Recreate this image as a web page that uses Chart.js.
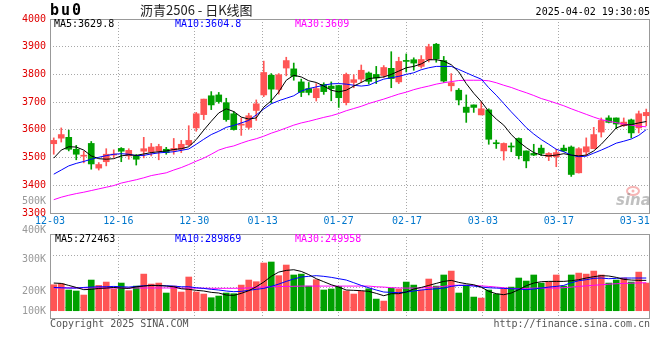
<!DOCTYPE html>
<html>
<head>
<meta charset="utf-8">
<script src="https://cdn.jsdelivr.net/npm/chart.js@4.4.1/dist/chart.umd.min.js"></script>
<style>
  body { margin: 0; background: #fff; }
  #wrap { position: relative; width: 660px; height: 360px; overflow: hidden; background: #fff; }
  canvas { position: absolute; left: 0; top: 0; }
  .t { position: absolute; font: 10px "DejaVu Sans Mono", monospace; line-height: 12px; white-space: nowrap; }
</style>
</head>
<body>
<div id="wrap">
  <canvas id="kline" width="660" height="360"></canvas>
  <canvas id="vol" width="660" height="360"></canvas>
  <div class="t" style="left:50px;top:3px;font:bold 15px 'DejaVu Sans Mono';line-height:15px;letter-spacing:2px;">bu0</div>
  <div class="t" style="left:140px;top:3px;font:13px 'Noto Sans CJK SC';line-height:13px;color:#222;">沥青2506 - 日K线图</div>
  <div class="t" id="stamp" style="right:10px;top:6px;color:#000;"></div>
  <div class="t" id="pm5" style="left:54px;top:18px;color:#000;"></div>
  <div class="t" id="pm10" style="left:175px;top:18px;color:#0000ff;"></div>
  <div class="t" id="pm30" style="left:295px;top:18px;color:#ff00ff;"></div>
  <div class="t" id="vm5" style="left:55px;top:233px;color:#000;"></div>
  <div class="t" id="vm10" style="left:175px;top:233px;color:#0000ff;"></div>
  <div class="t" id="vm30" style="left:295px;top:233px;color:#ff00ff;"></div>
  <div class="t" style="left:50px;top:318px;color:#555;">Copyright 2025 SINA.COM</div>
  <div class="t" style="right:10px;top:318px;color:#555;">http://finance.sina.com.cn</div>
</div>
<script>
// 交易日 (2024-12-03 ~ 2025-04-02)
const dates = [
  '12-03','12-04','12-05','12-06','12-09','12-10','12-11','12-12','12-13','12-16',
  '12-17','12-18','12-19','12-20','12-23','12-24','12-25','12-26','12-27','12-30',
  '12-31','01-02','01-03','01-06','01-07','01-08','01-09','01-10','01-13','01-14',
  '01-15','01-16','01-17','01-20','01-21','01-22','01-23','01-24','01-27','02-05',
  '02-06','02-07','02-10','02-11','02-12','02-13','02-14','02-17','02-18','02-19',
  '02-20','02-21','02-24','02-25','02-26','02-27','02-28','03-03','03-04','03-05',
  '03-06','03-07','03-10','03-11','03-12','03-13','03-14','03-17','03-18','03-19',
  '03-20','03-21','03-24','03-25','03-26','03-27','03-28','03-31','04-01','04-02'
];
const tickDates = ['12-03','12-16','12-30','01-13','01-27','02-17','03-03','03-17','03-31'];

const opens = [
  3550,3570,3573,3530,3505,3551,3462,3485,3509,3533, 3506,3506,3523,3520,3523,3530,3526,3530,3546,3607,
  3655,3723,3726,3698,3658,3617,3609,3670,3726,3797, 3746,3823,3820,3773,3749,3716,3764,3758,3760,3698,
  3771,3783,3805,3800,3796,3822,3773,3850,3853,3829, 3853,3909,3850,3759,3743,3682,3690,3654,3672,3553,
  3524,3540,3569,3524,3515,3534,3503,3503,3534,3538, 3445,3520,3532,3592,3643,3643,3615,3636,3607,3651
];
const closes = [
  3562,3583,3530,3512,3508,3477,3475,3512,3512,3523, 3526,3494,3532,3538,3540,3518,3533,3548,3562,3658,
  3711,3690,3702,3637,3601,3620,3651,3694,3807,3747, 3799,3850,3793,3735,3735,3749,3738,3749,3716,3800,
  3781,3815,3775,3787,3825,3785,3847,3847,3841,3854, 3900,3856,3776,3770,3708,3663,3681,3676,3566,3550,
  3551,3538,3507,3488,3509,3515,3515,3518,3524,3439, 3532,3539,3583,3634,3627,3621,3628,3589,3658,3663
];
const highs = [
  3571,3607,3599,3544,3523,3558,3482,3532,3528,3536, 3532,3511,3573,3551,3548,3537,3569,3562,3615,3663,
  3711,3738,3735,3714,3666,3643,3660,3708,3848,3803, 3803,3862,3841,3783,3771,3767,3770,3773,3761,3805,
  3799,3834,3809,3829,3832,3882,3862,3874,3860,3868, 3909,3912,3865,3803,3749,3726,3690,3702,3676,3563,
  3553,3553,3571,3524,3548,3545,3518,3530,3545,3542, 3536,3571,3609,3643,3651,3643,3643,3639,3668,3675
];
const lows = [
  3512,3556,3524,3492,3481,3458,3455,3470,3500,3485, 3494,3473,3499,3506,3492,3512,3512,3518,3542,3595,
  3637,3673,3696,3631,3599,3580,3603,3634,3720,3696, 3729,3795,3779,3720,3726,3704,3728,3705,3681,3690,
  3752,3771,3765,3767,3789,3752,3767,3809,3815,3823, 3845,3844,3771,3740,3690,3627,3663,3654,3548,3533,
  3491,3521,3495,3463,3507,3507,3489,3467,3521,3432, 3444,3507,3532,3574,3625,3604,3612,3571,3589,3615
];
// 成交量 (千手)
const volumes = [
  232,241,185,176,140,274,226,256,194,247, 179,220,327,238,247,158,220,167,301,167,
  149,116,131,158,152,229,274,259,426,435, 313,408,319,327,220,277,185,194,217,176,
  149,173,196,104,86,202,194,256,229,185, 283,220,319,354,158,229,122,113,185,149,
  194,211,292,265,319,247,256,319,220,319, 336,327,354,319,247,274,292,256,345,247
];

const ma5 = [
  3498,3527,3539,3538,3527,3506,3496,3494,3496,3506, 3510,3508,3513,3518,3521,3524,3529,3532,3539,3565,
  3599,3631,3661,3676,3666,3646,3639,3643,3682,3705, 3737,3779,3797,3791,3777,3771,3758,3743,3737,3743,
  3758,3771,3785,3788,3791,3800,3812,3824,3829,3838, 3853,3853,3848,3835,3809,3767,3732,3702,3666,3639,
  3617,3583,3557,3536,3518,3509,3506,3509,3514,3509, 3506,3509,3524,3548,3577,3607,3617,3619,3625,3630
];
const ma10 = [
  3440,3455,3470,3479,3486,3494,3501,3507,3512,3514, 3512,3507,3508,3513,3517,3519,3521,3526,3531,3548,
  3566,3583,3595,3609,3616,3625,3634,3654,3675,3694, 3705,3714,3723,3740,3749,3755,3761,3766,3767,3765,
  3761,3758,3761,3773,3783,3788,3793,3800,3806,3817, 3824,3829,3829,3829,3818,3806,3794,3783,3752,3725,
  3695,3665,3637,3608,3585,3565,3548,3530,3521,3509, 3503,3505,3516,3527,3539,3552,3559,3567,3580,3601
];
const ma30 = [
  3348,3357,3364,3370,3375,3381,3387,3393,3399,3408, 3414,3420,3427,3435,3440,3445,3455,3464,3475,3487,
  3498,3512,3527,3536,3542,3552,3561,3568,3577,3588, 3597,3607,3617,3625,3631,3638,3645,3651,3659,3669,
  3677,3685,3695,3703,3711,3720,3729,3736,3745,3752, 3758,3765,3770,3774,3778,3779,3779,3779,3777,3770,
  3761,3753,3743,3734,3724,3713,3705,3696,3687,3676, 3666,3656,3646,3637,3631,3626,3621,3617,3613,3611
];
const volMa5 = [
  247,244,226,208,188,191,199,202,208,202, 199,214,220,226,226,220,214,196,191,182,
  176,164,158,140,137,155,179,214,256,307, 345,360,366,351,322,286,259,232,211,185,
  182,179,173,155,134,152,152,167,194,208, 226,244,262,271,253,241,232,211,173,152,
  143,158,188,223,247,259,262,262,262,268, 277,292,304,313,310,298,280,274,271,271
];
const volMa10 = [
  208,205,202,202,208,211,214,214,217,214, 211,217,223,226,223,223,220,214,214,205,
  199,191,185,176,170,173,182,191,199,217, 238,262,283,301,307,313,307,298,286,274,
  250,226,205,185,167,164,161,167,176,185, 191,196,202,217,226,226,220,211,205,202,
  199,196,194,188,194,202,211,217,226,250, 268,277,289,292,286,289,292,292,292,292
];
const volMa30 = [
  204,204,204,204,204,204,204,203,203,203, 203,203,203,203,203,203,203,202,202,202,
  201,200,200,200,200,201,203,210,212,214, 216,217,218,220,220,220,220,220,220,220,
  220,220,220,214,211,206,203,202,202,203, 207,211,218,226,228,227,226,222,217,211,
  205,199,196,199,202,202,202,202,206,211, 217,222,227,232,237,241,244,246,248,250
];

const lastPriceMa = ['3629.8', '3604.8', '3609'];
const lastVolMa = ['272463', '289869', '249958'];
const stamp = '2025-04-02 19:30:05';

// 量图坐标刻度 (千手) 与显示文字
const volTickVals = [495, 209, 30];
const volTickLabels = ['300K', '200K', '100K'];
const volOverLabels = ['500K', '400K'];

const UP = '#ff5555', DOWN = '#00a000', GRID = '#a8a8a8';
const monoFont = { family: '"DejaVu Sans Mono", monospace', size: 10 };

document.getElementById('stamp').textContent = stamp;
document.getElementById('pm5').textContent = 'MA5:' + lastPriceMa[0];
document.getElementById('pm10').textContent = 'MA10:' + lastPriceMa[1];
document.getElementById('pm30').textContent = 'MA30:' + lastPriceMa[2];
document.getElementById('vm5').textContent = 'MA5:' + lastVolMa[0];
document.getElementById('vm10').textContent = 'MA10:' + lastVolMa[1];
document.getElementById('vm30').textContent = 'MA30:' + lastVolMa[2];

const candleColors = closes.map((c, i) => c >= opens[i] ? UP : DOWN);
const tickIdx = tickDates.map(d => dates.indexOf(d));

// 新浪的日期刻度按 (n-1) 等分排布，和K线中心略有偏差
function dateTickValue(i) {
    return i * dates.length / (dates.length - 1) - 0.5;
}

function xAxis(showLabels) {
    return {
        type: 'linear',
        offset: false,
        min: -0.5,
        max: dates.length - 0.5,
        afterBuildTicks: s => { s.ticks = tickIdx.map(i => ({ value: dateTickValue(i) })); },
        afterFit: s => { s.height = showLabels ? 147 : 42; },
        ticks: {
            display: showLabels,
            callback: (v, k) => tickDates[k],
            color: '#0077cc',
            font: monoFont,
            padding: 2,
            maxRotation: 0,
            autoSkip: false
        },
        grid: {
            offset: false,
            color: ctx => ctx.index === tickIdx.length - 1 ? 'transparent' : GRID,
            drawTicks: false
        },
        border: { display: false, dash: [1, 2] }
    };
}

const framePlugin = {
    id: 'frame',
    beforeDatasetsDraw(chart) {
        const { ctx, chartArea: a } = chart;
        ctx.save();
        ctx.strokeStyle = '#999';
        ctx.lineWidth = 1;
        ctx.strokeRect(Math.round(a.left) + 0.5, Math.round(a.top) + 0.5,
            Math.round(a.right - a.left) - 1, Math.round(a.bottom - a.top));
        ctx.restore();
    }
};

const logoPlugin = {
    id: 'logo',
    afterDraw(chart) {
        const ctx = chart.ctx;
        ctx.save();
        ctx.strokeStyle = 'rgba(235,90,90,0.45)';
        ctx.lineWidth = 2;
        ctx.beginPath();
        ctx.ellipse(633, 191, 6, 4, 0, 0, Math.PI * 2);
        ctx.stroke();
        ctx.fillStyle = 'rgba(235,90,90,0.45)';
        ctx.beginPath();
        ctx.arc(633, 191, 1.5, 0, Math.PI * 2);
        ctx.fill();
        ctx.font = 'italic bold 15px "DejaVu Sans"';
        ctx.fillStyle = 'rgba(140,140,140,0.55)';
        ctx.fillText('sina', 616, 205);
        ctx.restore();
    }
};

const overLabelPlugin = {
    id: 'overLabels',
    afterDraw(chart) {
        const ctx = chart.ctx;
        ctx.save();
        ctx.font = '10px "DejaVu Sans Mono"';
        ctx.fillStyle = '#999';
        ctx.textAlign = 'right';
        ctx.textBaseline = 'middle';
        ctx.fillText(volOverLabels[0], 46, 201);
        ctx.fillText(volOverLabels[1], 46, 230);
        ctx.restore();
    }
};

function line(data, color, xs) {
    return {
        type: 'line',
        data: data.map((v, i) => ({ x: i, y: xs ? v * xs : v })),
        borderColor: color,
        borderWidth: 1,
        pointRadius: 0,
        tension: 0,
        order: 0
    };
}

// K线图
new Chart(document.getElementById('kline'), {
    type: 'bar',
    data: {
        datasets: [
            {
                data: lows.map((l, i) => ({ x: i, y: [l, highs[i]] })),
                backgroundColor: candleColors,
                barThickness: 1,
                grouped: false,
                order: 2
            },
            {
                data: opens.map((o, i) => ({ x: i, y: [o, closes[i]] })),
                backgroundColor: candleColors,
                barThickness: 6,
                minBarLength: 1,
                grouped: false,
                order: 1
            },
            line(ma5, '#000000'),
            line(ma10, '#0000ff'),
            line(ma30, '#ff00ff')
        ]
    },
    options: {
        responsive: false,
        animation: false,
        layout: { padding: { top: 19, right: 10, left: 0, bottom: 0 } },
        plugins: { legend: { display: false }, tooltip: { enabled: false } },
        scales: {
            x: xAxis(true),
            y: {
                min: 3300,
                max: 4000,
                afterFit: s => { s.width = 50; },
                ticks: { stepSize: 100, callback: v => String(v), color: '#e00000', font: monoFont, padding: 4 },
                grid: { color: GRID, drawTicks: false },
                border: { display: false, dash: [1, 2] }
            }
        }
    },
    plugins: [framePlugin, logoPlugin]
});

// 成交量图
new Chart(document.getElementById('vol'), {
    type: 'bar',
    data: {
        datasets: [
            {
                data: volumes.map((v, i) => ({ x: i, y: v * 1000 })),
                backgroundColor: candleColors,
                barThickness: 6,
                grouped: false,
                order: 1
            },
            line(volMa5, '#000000', 1000),
            line(volMa10, '#0000ff', 1000),
            line(volMa30, '#ff00ff', 1000)
        ]
    },
    options: {
        responsive: false,
        animation: false,
        layout: { padding: { top: 234, right: 10, left: 0, bottom: 0 } },
        plugins: { legend: { display: false }, tooltip: { enabled: false } },
        scales: {
            x: xAxis(false),
            y: {
                min: -65000,
                max: 685000,
                afterFit: s => { s.width = 50; },
                afterBuildTicks: s => { s.ticks = volTickVals.map(v => ({ value: v * 1000 })); },
                ticks: {
                    callback: (v, k) => volTickLabels[k],
                    color: '#999',
                    font: monoFont,
                    padding: 4,
                    labelOffset: 4
                },
                grid: { color: GRID, drawTicks: false },
                border: { display: false, dash: [1, 2] }
            }
        }
    },
    plugins: [framePlugin, overLabelPlugin]
});
</script>
</body>
</html>
